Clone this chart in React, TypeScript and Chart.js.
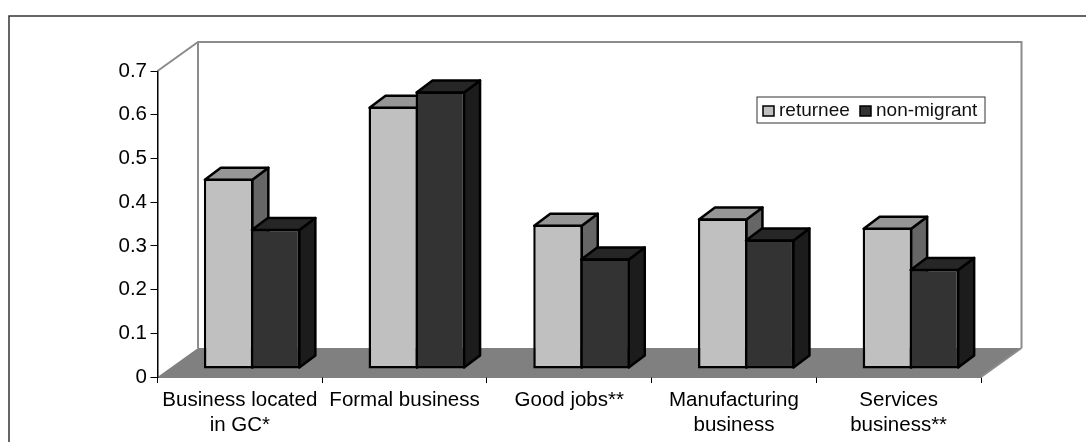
import React, { useEffect, useRef } from "react";
import { Chart, registerables } from "chart.js";

Chart.register(...registerables);

const categories = [
  ["Business located", "in GC*"],
  ["Formal business"],
  ["Good jobs**"],
  ["Manufacturing", "business"],
  ["Services", "business**"],
];
const returnee = [0.435, 0.6, 0.33, 0.344, 0.323];
const nonMigrant = [0.32, 0.635, 0.253, 0.296, 0.229];

const FONT = "'Liberation Sans', Arial, sans-serif";
const AXIS_FONT_SIZE = 20.5;
const KEY_FONT_SIZE = 19;

const WALL_DX = 40.5;
const WALL_DY = -29;
const BAR_DX = 12.25;
const BAR_DY = -8;
const SIDE_DX = 16;
const SIDE_DY = -12;

const faceColors = [
  { top: "#969696", side: "#666666" },
  { top: "#262626", side: "#1c1c1c" },
];

function quad(ctx: CanvasRenderingContext2D, pts: number[][], fill: string, stroke?: string, lw = 2.5) {
  ctx.beginPath();
  ctx.moveTo(pts[0][0], pts[0][1]);
  for (const p of pts.slice(1)) ctx.lineTo(p[0], p[1]);
  ctx.closePath();
  ctx.fillStyle = fill;
  ctx.fill();
  if (stroke) {
    ctx.strokeStyle = stroke;
    ctx.lineWidth = lw;
    ctx.lineJoin = "round";
    ctx.stroke();
  }
}

const roomPlugin = {
  id: "room",
  // Frame, back wall and floor go down first, then each series from left to right
  // so that the darker bars overlap the side faces of the lighter ones.
  beforeDatasetsDraw(chart: any) {
    const { ctx, chartArea: a } = chart;
    ctx.save();
    ctx.strokeStyle = "#333333";
    ctx.lineWidth = 1.5;
    ctx.beginPath();
    ctx.moveTo(9, 442);
    ctx.lineTo(9, 16);
    ctx.lineTo(1086, 16);
    ctx.stroke();

    quad(ctx, [
      [a.left, a.bottom],
      [a.right, a.bottom],
      [a.right + WALL_DX, a.bottom + WALL_DY],
      [a.left + WALL_DX, a.bottom + WALL_DY],
    ], "#808080");

    ctx.strokeStyle = "#8c8c8c";
    ctx.lineWidth = 2;
    ctx.beginPath();
    ctx.moveTo(a.left, a.top);
    ctx.lineTo(a.left + WALL_DX, a.top + WALL_DY);
    ctx.lineTo(a.right + WALL_DX, a.top + WALL_DY);
    ctx.lineTo(a.right + WALL_DX, a.bottom + WALL_DY);
    ctx.moveTo(a.left + WALL_DX, a.top + WALL_DY);
    ctx.lineTo(a.left + WALL_DX, a.bottom + WALL_DY);
    ctx.moveTo(a.right, a.bottom);
    ctx.lineTo(a.right + WALL_DX, a.bottom + WALL_DY);
    ctx.stroke();
    ctx.restore();

    chart.data.datasets.forEach((_: any, index: number) => {
      const meta = chart.getDatasetMeta(index);
      const c = faceColors[index];
      ctx.save();
      ctx.translate(BAR_DX, BAR_DY);
      for (const bar of meta.data) {
        const { x, y, base, width } = bar.getProps(["x", "y", "base", "width"], true);
        const l = x - width / 2 + 1;
        const r = x + width / 2 - 1;
        const t = y + 1;
        const b = base - 1;
        quad(ctx, [[r, t], [r + SIDE_DX, t + SIDE_DY], [r + SIDE_DX, b + SIDE_DY], [r, b]], c.side, "#000000");
        quad(ctx, [[l, t], [l + SIDE_DX, t + SIDE_DY], [r + SIDE_DX, t + SIDE_DY], [r, t]], c.top, "#000000");
      }
      meta.controller.draw();
      ctx.restore();
    });
    return false;
  },
  // Boxed key in the upper right of the wall.
  afterDraw(chart: any) {
    const { ctx } = chart;
    ctx.save();
    ctx.fillStyle = "#ffffff";
    ctx.fillRect(757, 97, 228, 26);
    ctx.strokeStyle = "#333333";
    ctx.lineWidth = 1;
    ctx.strokeRect(757, 97, 228, 26);
    ctx.font = `${KEY_FONT_SIZE}px ${FONT}`;
    ctx.textBaseline = "middle";
    const slots = [{ box: 763, text: 779 }, { box: 860, text: 876 }];
    chart.data.datasets.forEach((ds: any, i: number) => {
      ctx.fillStyle = ds.backgroundColor;
      ctx.fillRect(slots[i].box, 106, 11, 10);
      ctx.strokeStyle = "#000000";
      ctx.lineWidth = 1.5;
      ctx.strokeRect(slots[i].box, 106, 11, 10);
      ctx.fillStyle = "#111111";
      ctx.fillText(ds.label, slots[i].text, 111);
    });
    ctx.restore();
  },
};

export default function App() {
  const ref = useRef<HTMLCanvasElement>(null);
  useEffect(() => {
    const chart = new Chart(ref.current!, {
      type: "bar",
      plugins: [roomPlugin],
      data: {
        labels: categories,
        datasets: [
          {
            label: "returnee",
            data: returnee,
            backgroundColor: "#c0c0c0",
            borderColor: "#000000",
            borderWidth: 2.5,
            borderSkipped: false,
          },
          {
            label: "non-migrant",
            data: nonMigrant,
            backgroundColor: "#333333",
            borderColor: "#000000",
            borderWidth: 2.5,
            borderSkipped: false,
          },
        ] as any,
      },
      options: {
        animation: false,
        responsive: false,
        events: [],
        layout: { padding: { top: 71, right: 105, left: 0, bottom: 0 } },
        datasets: { bar: { categoryPercentage: 94 / 164.7, barPercentage: 49.5 / 47 } },
        plugins: { legend: { display: false }, tooltip: { enabled: false }, title: { display: false } },
        scales: {
          x: {
            afterFit: (s: any) => { s.height = 65; },
            border: { color: "#000000", width: 1.5 },
            grid: { display: true, drawOnChartArea: false, drawTicks: true, tickLength: 6, color: "#000000", lineWidth: 1 },
            ticks: { color: "#000000", font: { family: FONT, size: AXIS_FONT_SIZE, lineHeight: 1.22 }, padding: 5, maxRotation: 0, autoSkip: false },
          },
          y: {
            min: 0,
            max: 0.7,
            afterFit: (s: any) => { s.width = 157.5; },
            border: { color: "#000000", width: 1.5 },
            grid: { display: true, drawOnChartArea: false, drawTicks: true, tickLength: 7, color: "#000000", lineWidth: 1 },
            ticks: { stepSize: 0.1, color: "#000000", font: { family: FONT, size: AXIS_FONT_SIZE }, padding: 3.5 },
          },
        },
      } as any,
    });
    return () => chart.destroy();
  }, []);
  return (
    <canvas
      ref={ref}
      width={1086}
      height={442}
      style={{ position: "fixed", left: 0, top: 0, width: 1086, height: 442, background: "#ffffff" }}
    />
  );
}
